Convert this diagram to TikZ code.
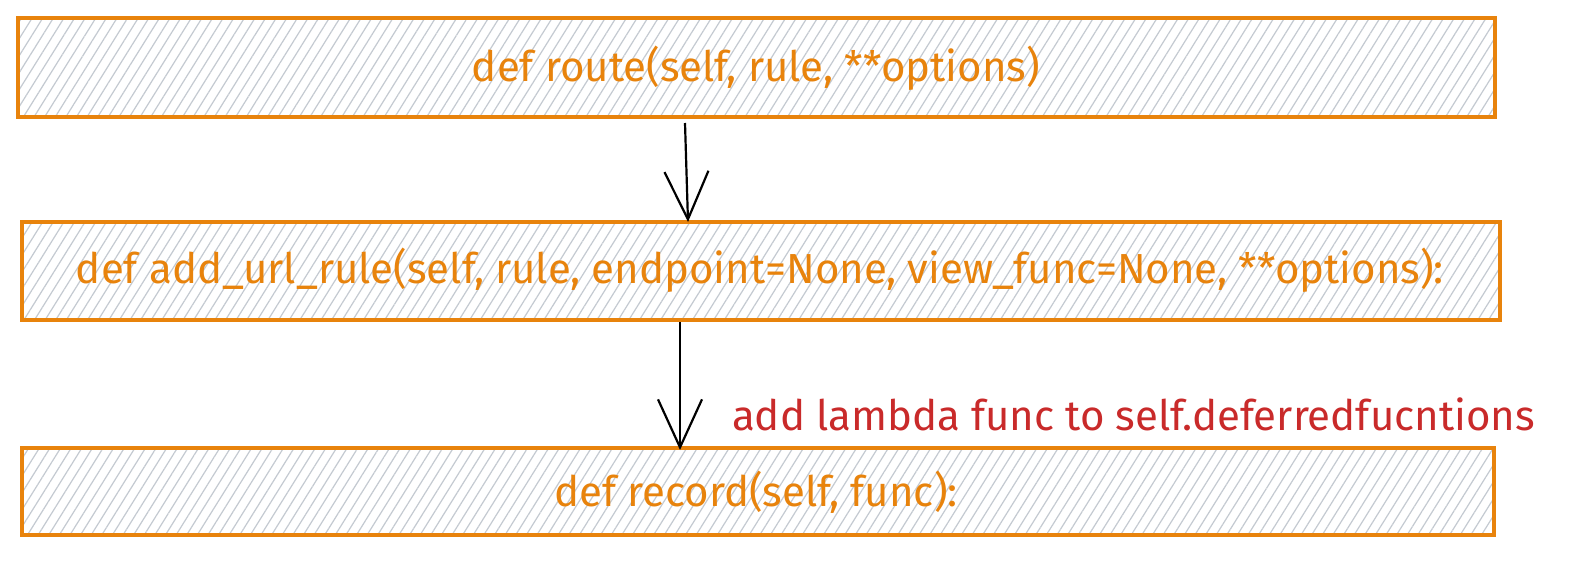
\documentclass[tikz,border=0pt]{standalone}
\usepackage{fontspec}
\setmainfont{Fira Sans}
\usetikzlibrary{arrows.meta,patterns.meta}
\definecolor{exorange}{HTML}{E8830C}
\definecolor{exred}{HTML}{C92A2A}
\definecolor{hatch}{HTML}{C4CAD1}
\tikzset{
  codebox/.style={draw=exorange, line width=1.6pt,
    pattern={Lines[angle=58,distance=4.5pt,line width=0.6pt]}, pattern color=hatch},
  codetext/.style={text=exorange, font=\fontsize{21}{23}\selectfont, anchor=center},
  flow/.style={draw=black, line width=1.1pt, -{Straight Barb[length=24pt,width=22pt,line width=1.1pt]}},
  note/.style={text=exred, font=\fontsize{21}{23}\selectfont, anchor=west}
}
\begin{document}
\begin{tikzpicture}[x=0.5pt,y=-0.5pt]
\useasboundingbox (0,0) rectangle (1594,562);
\fill[white] (0,0) rectangle (1594,562);
\draw[codebox] (18,18) rectangle (1495,117);
\draw[codebox] (22,222) rectangle (1500,320);
\draw[codebox] (22,448) rectangle (1494,535);
\node[codetext] (route) at (756,68) {def route(self, rule, **options)};
\node[codetext] (addurl) at (760,270) {def add\_url\_rule(self, rule, endpoint=None, view\_func=None, **options):};
\node[codetext] (record) at (756,492) {def record(self, func):};
\coordinate (a1s) at (685,123);
\coordinate (a1e) at (688,222);
\coordinate (a2s) at (680,322);
\coordinate (a2e) at (680,450);
\draw[flow] (a1s) -- (a1e);
\draw[flow] (a2s) -- (a2e);
\node[note] (lbl) at (725,414) {add lambda func to self.deferredfucntions};
\end{tikzpicture}
\end{document}
